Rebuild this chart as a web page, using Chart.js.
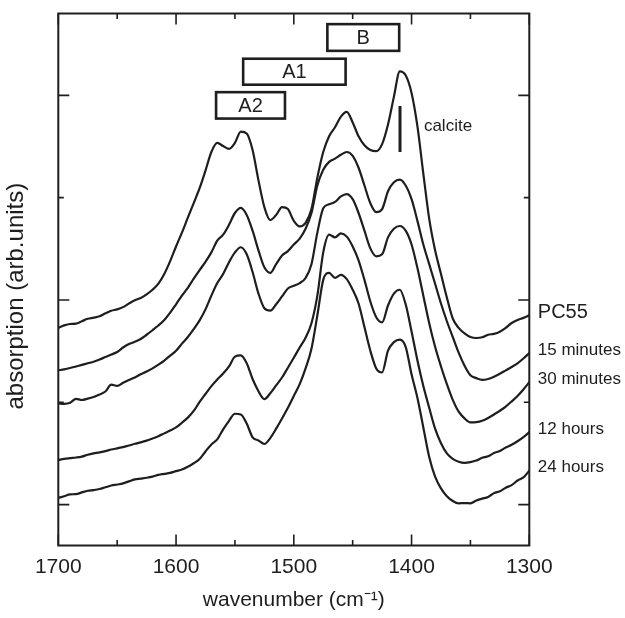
<!DOCTYPE html>
<html><head><meta charset="utf-8">
<script src="https://cdn.jsdelivr.net/npm/chart.js@4.4.1/dist/chart.umd.min.js"></script>
<style>html,body{margin:0;padding:0;background:#fff;overflow:hidden}</style>
</head><body>
<canvas id="c" width="625" height="618"></canvas>
<script>
// wavenumber grid (cm-1)
const wavenumbers = [1700,1695,1690,1685,1680,1675,1670,1665,1660,1655,1650,1645,1640,1635,1630,1625,1620,1615,1610,1605,1600,
  1595,1590,1585,1580,1575,1570,1565,1560,1555,1550,1545,1540,1535,1530,1525,1520,1515,1510,1505,1500,
  1495,1490,1485,1480,1475,1470,1465,1460,1455,1450,1445,1440,1435,1430,1425,1420,1415,1410,1405,1400,
  1395,1390,1385,1380,1375,1370,1365,1360,1355,1350,1345,1340,1335,1330,1325,1320,1315,1310,1305,1300];
// absorption (arb. units, offset spectra)
const pc55 = [1.727,1.752,1.765,1.768,1.792,1.816,1.827,1.840,1.869,1.895,1.908,1.930,1.965,1.996,2.019,2.055,2.100,2.160,2.254,2.380,2.523,
  2.658,2.804,2.946,3.092,3.265,3.446,3.535,3.504,3.477,3.535,3.646,3.627,3.465,3.169,2.908,2.781,2.831,2.908,2.888,2.773,
  2.719,2.754,2.888,3.196,3.446,3.600,3.688,3.792,3.838,3.735,3.600,3.512,3.465,3.454,3.523,3.715,3.985,4.235,4.196,4.023,
  3.696,3.235,2.792,2.485,2.254,2.023,1.819,1.727,1.673,1.638,1.628,1.635,1.660,1.669,1.690,1.727,1.775,1.804,1.825,1.850];
const min15 = [1.312,1.322,1.335,1.350,1.365,1.381,1.396,1.418,1.442,1.466,1.492,1.535,1.569,1.592,1.619,1.660,1.704,1.750,1.804,1.876,1.958,
  2.042,2.119,2.208,2.292,2.373,2.465,2.581,2.638,2.735,2.850,2.900,2.831,2.677,2.485,2.319,2.265,2.350,2.435,2.477,2.542,
  2.600,2.696,2.850,3.119,3.273,3.350,3.381,3.419,3.446,3.408,3.292,3.119,2.946,2.858,2.888,3.062,3.150,3.177,3.119,2.985,
  2.773,2.542,2.350,2.158,1.965,1.792,1.638,1.485,1.358,1.265,1.236,1.219,1.228,1.250,1.279,1.312,1.345,1.381,1.428,1.481];
const min30 = [0.988,0.985,0.995,1.034,1.022,1.035,1.052,1.075,1.105,1.172,1.160,1.190,1.218,1.243,1.273,1.300,1.331,1.368,1.408,1.455,1.504,
  1.573,1.638,1.715,1.800,1.908,2.042,2.165,2.254,2.369,2.465,2.515,2.446,2.273,2.062,1.919,1.896,1.958,2.035,2.112,2.138,
  2.165,2.215,2.350,2.658,2.896,2.935,2.958,3.012,3.035,2.985,2.850,2.677,2.504,2.427,2.446,2.612,2.696,2.723,2.677,2.542,
  2.312,2.042,1.773,1.542,1.350,1.177,1.023,0.908,0.842,0.804,0.806,0.819,0.846,0.881,0.917,0.958,1.008,1.062,1.125,1.196];
const hours12 = [0.435,0.447,0.454,0.460,0.469,0.487,0.500,0.510,0.523,0.538,0.550,0.562,0.577,0.594,0.608,0.625,0.646,0.668,0.696,0.724,0.754,
  0.800,0.850,0.915,1.004,1.081,1.158,1.223,1.281,1.350,1.446,1.458,1.381,1.227,1.108,1.031,1.088,1.165,1.242,1.338,1.435,
  1.535,1.631,1.773,2.042,2.465,2.638,2.612,2.650,2.619,2.523,2.388,2.196,1.985,1.831,1.781,1.946,2.062,2.100,1.958,1.692,
  1.408,1.158,0.946,0.742,0.600,0.500,0.446,0.419,0.408,0.415,0.430,0.458,0.472,0.504,0.524,0.558,0.584,0.619,0.660,0.708];
const hours24 = [0.065,0.082,0.100,0.102,0.119,0.135,0.142,0.152,0.169,0.186,0.196,0.207,0.227,0.246,0.254,0.262,0.273,0.290,0.300,0.310,0.327,
  0.342,0.369,0.404,0.446,0.519,0.588,0.638,0.735,0.819,0.888,0.881,0.792,0.658,0.627,0.592,0.650,0.742,0.842,0.946,1.062,
  1.177,1.331,1.523,1.850,2.196,2.265,2.215,2.246,2.204,2.100,1.965,1.735,1.504,1.331,1.292,1.504,1.588,1.612,1.542,1.273,
  1.042,0.754,0.465,0.273,0.158,0.081,0.035,0.012,0.015,0.012,0.040,0.058,0.075,0.112,0.130,0.165,0.190,0.235,0.265,0.331];
const seriesLabels = ['PC55','15 minutes','30 minutes','12 hours','24 hours'];
// axis ticks
const xTickValues = [1700,1650,1600,1550,1500,1450,1400,1350,1300];
const xMajorTicks = [1700,1600,1500,1400,1300];
const yTickValues = [0,1,2,3,4];
const yMajorTicks = [0,2,4];
// band assignment boxes
const bandLabels = ['A2','A1','B'];
const bandFrom = [1566,1543,1471.5];
const bandTo = [1507.5,1456,1410.5];
const bandTop = [4.031,4.358,4.696];
const bandBottom = [3.773,4.104,4.435];
// calcite marker
const calciteLabel = 'calcite';
const calciteWn = [1409.8];
const calciteRange = [3.446,3.896];
const calciteTextWn = [1389.5];
const calciteTextY = [3.696];

const INK = '#1e1e1e';
const FONT = "'Liberation Sans', Arial, Helvetica, sans-serif";

const allSeries = [pc55, min15, min30, hours12, hours24];
const datasets = allSeries.map((s, i) => ({
  label: seriesLabels[i],
  data: wavenumbers.map((w, j) => ({x: w, y: s[j]})),
  borderColor: INK, borderWidth: 2.2, pointRadius: 0,
  cubicInterpolationMode: 'monotone', fill: false,
  borderJoinStyle: 'round', borderCapStyle: 'round'
}));

const decor = {
  id: 'decor',
  afterDraw(chart) {
    const {ctx, chartArea: a, scales: {x, y}} = chart;
    ctx.save();
    ctx.strokeStyle = INK; ctx.fillStyle = INK;
    // frame
    ctx.lineWidth = 2;
    ctx.strokeRect(a.left, a.top, a.right - a.left, a.bottom - a.top);
    // ticks (all four sides, inward)
    ctx.lineWidth = 1.6;
    ctx.beginPath();
    xTickValues.forEach(v => {
      const px = x.getPixelForValue(v);
      const len = xMajorTicks.includes(v) ? 11 : 5.5;
      ctx.moveTo(px, a.bottom); ctx.lineTo(px, a.bottom - len);
      ctx.moveTo(px, a.top); ctx.lineTo(px, a.top + len);
    });
    yTickValues.forEach(v => {
      const py = y.getPixelForValue(v);
      const len = yMajorTicks.includes(v) ? 11 : 5.5;
      ctx.moveTo(a.left, py); ctx.lineTo(a.left + len, py);
      ctx.moveTo(a.right, py); ctx.lineTo(a.right - len, py);
    });
    ctx.stroke();
    // band boxes
    ctx.lineWidth = 2.6;
    ctx.font = '20px ' + FONT;
    ctx.textAlign = 'center'; ctx.textBaseline = 'middle';
    bandLabels.forEach((lab, i) => {
      const x0 = x.getPixelForValue(bandFrom[i]), x1 = x.getPixelForValue(bandTo[i]);
      const y0 = y.getPixelForValue(bandTop[i]), y1 = y.getPixelForValue(bandBottom[i]);
      ctx.strokeRect(x0, y0, x1 - x0, y1 - y0);
      ctx.fillText(lab, (x0 + x1) / 2, (y0 + y1) / 2 + 1);
    });
    // calcite marker
    ctx.lineWidth = 3;
    ctx.beginPath();
    const cx = x.getPixelForValue(calciteWn[0]);
    ctx.moveTo(cx, y.getPixelForValue(calciteRange[1]));
    ctx.lineTo(cx, y.getPixelForValue(calciteRange[0]));
    ctx.stroke();
    ctx.font = '17px ' + FONT;
    ctx.textAlign = 'left';
    ctx.fillText(calciteLabel, x.getPixelForValue(calciteTextWn[0]), y.getPixelForValue(calciteTextY[0]));
    // series labels at right
    allSeries.forEach((s, i) => {
      ctx.font = (i === 0 ? '20px ' : '17px ') + FONT;
      const py = y.getPixelForValue(s[s.length - 1]) - 3;
      ctx.fillText(seriesLabels[i], a.right + 8.5, py);
    });
    ctx.restore();
  }
};

new Chart(document.getElementById('c'), {
  type: 'line',
  data: {datasets},
  options: {
    responsive: false, animation: false, devicePixelRatio: 1,
    layout: {padding: {top: 13.5, right: 95.7, left: 0, bottom: 0}},
    plugins: {legend: {display: false}, tooltip: {enabled: false}},
    scales: {
      x: {
        type: 'linear', reverse: true, min: 1300, max: 1700,
        afterFit: s => { s.height = 72.5; },
        grid: {display: false, drawTicks: false},
        border: {display: false},
        ticks: {stepSize: 100, padding: 9, color: INK, font: {family: FONT, size: 21},
          maxRotation: 0, autoSkip: false, callback: v => String(v)},
        title: {display: true, text: 'wavenumber (cm\u207B\u00B9)', color: INK,
          font: {family: FONT, size: 21}, padding: {top: 0, bottom: 5}}
      },
      y: {
        type: 'linear', min: -0.40, max: 4.80,
        afterFit: s => { s.width = 58.3; },
        grid: {display: false, drawTicks: false},
        border: {display: false},
        ticks: {display: false},
        title: {display: true, text: 'absorption (arb.units)     ', color: INK,
          font: {family: FONT, size: 24}, padding: {top: 2, bottom: 0}}
      }
    }
  },
  plugins: [decor]
});
</script>
</body></html>
